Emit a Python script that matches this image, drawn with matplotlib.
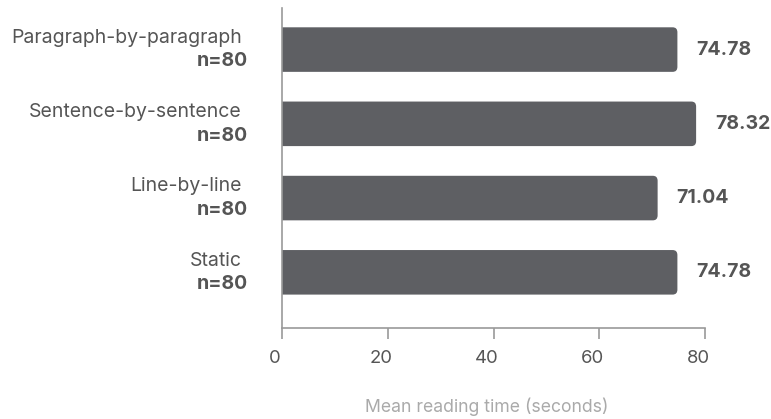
import matplotlib.pyplot as plt
from matplotlib.patches import FancyBboxPatch
from matplotlib.transforms import ScaledTranslation, blended_transform_factory

plt.rcParams["font.family"] = ["Inter", "DejaVu Sans"]

conditions = ["Paragraph-by-paragraph", "Sentence-by-sentence", "Line-by-line", "Static"]
counts = [80, 80, 80, 80]
mean_times = [74.78, 78.32, 71.04, 74.78]
x_ticks = [0, 20, 40, 60, 80]

BAR_COLOR = "#5e5f63"
TEXT_COLOR = "#555555"
AXIS_COLOR = "#9a9a9a"

fig = plt.figure(figsize=(7.71, 4.19), dpi=100)
ax = fig.add_axes([282 / 771, 1 - 328 / 419, 423 / 771, 320 / 419])

bar_h = 0.6
for i, val in enumerate(mean_times):
    # extend a bit past zero so the left rounded corners get clipped by the axes
    patch = FancyBboxPatch((-2, i - bar_h / 2), val + 2, bar_h,
                           boxstyle="round,pad=0,rounding_size=0.9",
                           mutation_aspect=0.075,
                           facecolor=BAR_COLOR, edgecolor="none")
    ax.add_patch(patch)
    ax.annotate(f"{val:.2f}", xy=(val, i), xytext=(13.5, 0), textcoords="offset points",
                va="center", ha="left", fontsize=14, fontweight="bold", color=TEXT_COLOR)

trans = blended_transform_factory(ax.transAxes, ax.transData)
for i, (name, n) in enumerate(zip(conditions, counts)):
    ax.annotate(name, xy=(0, i), xycoords=trans, xytext=(-29, 8.5), textcoords="offset points",
                ha="right", va="center", fontsize=14, color=TEXT_COLOR)
    ax.annotate(f"n={n}", xy=(0, i), xycoords=trans, xytext=(-24.5, -8.5), textcoords="offset points",
                ha="right", va="center", fontsize=14, fontweight="bold", color=TEXT_COLOR)

ax.set_xlim(0, 80)
ax.set_ylim(3.75, -0.56)
ax.set_xticks(x_ticks)
ax.set_yticks([])
ax.tick_params(axis="x", length=8, width=1.2, color=AXIS_COLOR, labelsize=13.3,
               labelcolor=TEXT_COLOR, pad=8)
# tick labels and axis title sit slightly left of centre
shift = ScaledTranslation(-7 / 100, 0, fig.dpi_scale_trans)
for lbl in ax.get_xticklabels():
    lbl.set_transform(lbl.get_transform() + shift)

for side in ["top", "right"]:
    ax.spines[side].set_visible(False)
for side in ["left", "bottom"]:
    ax.spines[side].set_color(AXIS_COLOR)
    ax.spines[side].set_linewidth(1.2)

ax.set_xlabel("Mean reading time (seconds)", fontsize=12.7, color="#aaaaaa")
ax.xaxis.set_label_coords(0.5 - 7 / 423, -78.5 / 320)
ax.xaxis.label.set_va("center")

fig.savefig("out.png", dpi=100)
